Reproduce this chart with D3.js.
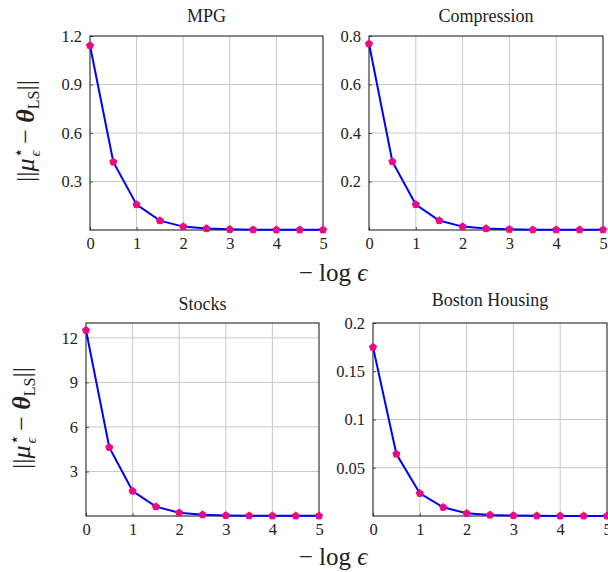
<!DOCTYPE html>
<html>
<head>
<meta charset="utf-8">
<script src="https://cdn.jsdelivr.net/npm/d3@7"></script>
<style>
  html, body { margin: 0; padding: 0; background: #fff; }
  svg { display: block; }
  text { font-family: "Liberation Serif", "DejaVu Serif", serif; fill: #222; }
</style>
</head>
<body>
<svg id="chart" width="608" height="572"></svg>
<script>
// ---- data ----
const xValues = [0, 0.5, 1, 1.5, 2, 2.5, 3, 3.5, 4, 4.5, 5];
const xTicks = [0, 1, 2, 3, 4, 5];

const titles = ["MPG", "Compression", "Stocks", "Boston Housing"];

const mpgValues = [1.141, 0.421, 0.157, 0.058, 0.021, 0.009, 0.004, 0.002, 0.001, 0.001, 0.001];
const compressionValues = [0.768, 0.282, 0.105, 0.039, 0.014, 0.006, 0.003, 0.001, 0.001, 0.001, 0.001];
const stocksValues = [12.51, 4.62, 1.68, 0.63, 0.22, 0.09, 0.04, 0.02, 0.01, 0.01, 0.01];
const bostonValues = [0.175, 0.0642, 0.0235, 0.009, 0.0028, 0.0011, 0.0005, 0.0002, 0.0001, 0.0001, 0.0001];

const mpgTicks = [0.3, 0.6, 0.9, 1.2];
const compressionTicks = [0.2, 0.4, 0.6, 0.8];
const stocksTicks = [3, 6, 9, 12];
const bostonTicks = [0.05, 0.1, 0.15, 0.2];

const yMax = [1.2, 0.8, 13, 0.2];

// ---- layout ----
const panels = [
  { title: titles[0], values: mpgValues, yTicks: mpgTicks, yMax: yMax[0], x0: 90, x1: 323, y0: 36, y1: 230, titleY: 22 },
  { title: titles[1], values: compressionValues, yTicks: compressionTicks, yMax: yMax[1], x0: 369, x1: 603, y0: 36, y1: 230, titleY: 22 },
  { title: titles[2], values: stocksValues, yTicks: stocksTicks, yMax: yMax[2], x0: 86, x1: 319, y0: 323, y1: 516, titleY: 310 },
  { title: titles[3], values: bostonValues, yTicks: bostonTicks, yMax: yMax[3], x0: 373, x1: 607, y0: 323, y1: 516, titleY: 306 }
];

const svg = d3.select("#chart");
const lineColor = "#0000ff";
const markColor = "#ec0a82";

panels.forEach(p => {
  const x = d3.scaleLinear().domain([0, 5]).range([p.x0, p.x1]);
  const y = d3.scaleLinear().domain([0, p.yMax]).range([p.y1, p.y0]);
  const g = svg.append("g");

  // grid
  g.selectAll(".vgrid").data(xTicks.filter(t => t > 0 && t < 5)).enter().append("line")
    .attr("x1", d => x(d)).attr("x2", d => x(d)).attr("y1", p.y0).attr("y2", p.y1)
    .attr("stroke", "#c8c8c8").attr("stroke-width", 1);
  g.selectAll(".hgrid").data(p.yTicks.filter(t => t < p.yMax)).enter().append("line")
    .attr("x1", p.x0).attr("x2", p.x1).attr("y1", d => y(d)).attr("y2", d => y(d))
    .attr("stroke", "#c8c8c8").attr("stroke-width", 1);

  const xAxis = d3.axisBottom(x).tickValues(xTicks).tickFormat(d3.format("d")).tickSizeInner(-3).tickSizeOuter(0).tickPadding(7);
  const gx = g.append("g").attr("transform", `translate(0,${p.y1})`).call(xAxis);
  gx.select(".domain").remove();
  gx.selectAll("line").attr("stroke", "#555");
  gx.selectAll("text").attr("font-size", 16.5).attr("font-family", "Liberation Serif").attr("fill", "#333");

  const yAxis = d3.axisLeft(y).tickValues(p.yTicks).tickFormat(d => String(d)).tickSizeInner(-3).tickSizeOuter(0).tickPadding(8);
  const gy = g.append("g").attr("transform", `translate(${p.x0},0)`).call(yAxis);
  gy.select(".domain").remove();
  gy.selectAll("line").attr("stroke", "#555");
  gy.selectAll("text").attr("font-size", 16.5).attr("font-family", "Liberation Serif").attr("fill", "#333");

  // frame
  g.append("rect").attr("x", p.x0).attr("y", p.y0).attr("width", p.x1 - p.x0).attr("height", p.y1 - p.y0)
    .attr("fill", "none").attr("stroke", "#111").attr("stroke-width", 1);

  // line
  const line = d3.line().x((d, i) => x(xValues[i])).y(d => y(d));
  g.append("path").datum(p.values).attr("d", line)
    .attr("fill", "none").attr("stroke", lineColor).attr("stroke-width", 2);

  // markers (pentagons)
  const pent = d3.symbol().type({
    draw(ctx, size) {
      const r = Math.sqrt(size / 2.4);
      for (let k = 0; k < 5; k++) {
        const a = -Math.PI / 2 + k * 2 * Math.PI / 5;
        const px = r * Math.cos(a), py = r * Math.sin(a);
        if (k === 0) ctx.moveTo(px, py); else ctx.lineTo(px, py);
      }
      ctx.closePath();
    }
  }).size(34);
  g.selectAll(".mk").data(p.values).enter().append("path")
    .attr("d", pent)
    .attr("transform", (d, i) => `translate(${x(xValues[i])},${y(d)})`)
    .attr("fill", markColor).attr("stroke", markColor).attr("stroke-width", 1);

  // title
  g.append("text").attr("x", (p.x0 + p.x1) / 2).attr("y", p.titleY)
    .attr("text-anchor", "middle").attr("font-size", 18).attr("fill", "#333").text(p.title);
});

// x axis labels "− log ε"
function xLabel(cx, cy) {
  const t = svg.append("text").attr("x", cx).attr("y", cy).attr("text-anchor", "middle").attr("font-size", 25);
  t.append("tspan").text("\u2212 log ");
  t.append("tspan").attr("font-style", "italic").text("\u03F5");
}
xLabel(333, 281);
xLabel(333, 565);

// y axis labels "||μ*_ε − θ_LS||"
function yLabel(cx, cy) {
  const t = svg.append("text")
    .attr("transform", `translate(${cx},${cy}) rotate(-90)`)
    .attr("text-anchor", "middle").attr("font-size", 26);
  t.append("tspan").text("||");
  t.append("tspan").attr("font-style", "italic").text("\u03BC");
  t.append("tspan").attr("font-size", 17).attr("dy", -10).text("\u22C6");
  t.append("tspan").attr("font-size", 15).attr("font-style", "italic").attr("dx", -9).attr("dy", 16).text("\u03F5");
  t.append("tspan").attr("dy", -6).text(" \u2212 ");
  t.append("tspan").attr("font-weight", "bold").attr("font-style", "italic").text("\u03B8");
  t.append("tspan").attr("font-size", 16).attr("dy", 5).text("LS");
  t.append("tspan").attr("dy", -5).text("||");
}
yLabel(34, 131);
yLabel(30, 418);
</script>
</body>
</html>
